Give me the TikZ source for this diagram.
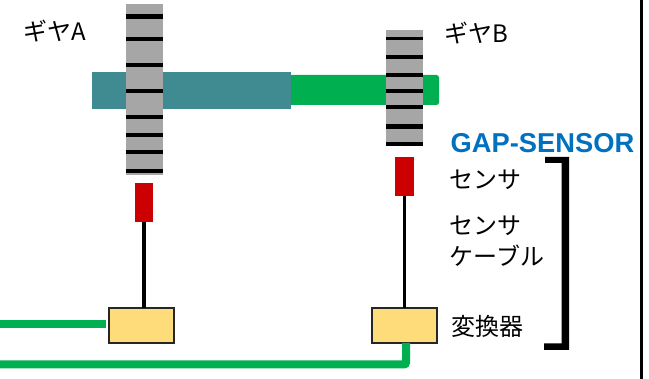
\documentclass[tikz,border=0pt]{standalone}
\usepackage{fontspec}
\setmainfont{Liberation Sans}
\newfontfamily\cjk{Noto Sans CJK JP}
\definecolor{tealshaft}{HTML}{408A91}
\definecolor{greenline}{HTML}{00B050}
\definecolor{gearfill}{HTML}{A6A6A6}
\definecolor{sensorred}{HTML}{CC0000}
\definecolor{boxfill}{HTML}{FFDC7A}
\definecolor{gapblue}{HTML}{0070C0}
\tikzset{
  x=1pt,y=-1pt,
  block/.style={draw=none,inner sep=0pt,outer sep=0pt,anchor=north west},
  gearbody/.style={block,fill=gearfill,minimum width=36.5pt},
  sensorhead/.style={block,fill=sensorred,minimum width=18.5pt,minimum height=39pt},
  converter/.style={draw=black!85,line width=1.2pt,fill=boxfill,inner sep=0pt,outer sep=0pt,anchor=north west,minimum width=65pt,minimum height=35pt},
  tooth/.style={black,line width=#1},
  tooth/.default=3.5pt,
  cable/.style={black,line width=3pt},
  signal/.style={greenline,line width=8pt},
  label/.style={inner sep=0pt,anchor=west,text=black,font=\fontsize{24}{27}\selectfont\cjk},
}
\begin{document}
\begin{tikzpicture}
\useasboundingbox (0,0) rectangle (649,379);
\fill[white] (0,0) rectangle (649,379);
% shafts
\fill[greenline,rounded corners=2.5pt] (285,75) rectangle (439,105);
\node[block,fill=tealshaft,minimum width=199.5pt,minimum height=37pt] (shaft) at (91.5,72) {};
% gear A
\node[gearbody,minimum height=171pt] (gearA) at (126,4) {};
\foreach \y/\t in {17/5pt,39/4pt,65.5/4pt,91/4pt,117/4pt,135.5/4pt,152/4pt,171/4.5pt}
  \draw[tooth=\t] (126,\y) -- (162.5,\y);
% gear B
\node[gearbody,minimum height=116pt] (gearB) at (386,30) {};
\foreach \y/\t in {38.5/3.5pt,57.5/4pt,75/4pt,91/4pt,107/4.5pt,127/5pt,144/3.5pt}
  \draw[tooth=\t] (386,\y) -- (422.5,\y);
% sensors, converters
\node[sensorhead] (sensorA) at (134.8,183) {};
\node[sensorhead] (sensorB) at (395,157) {};
\node[converter] (convA) at (109,308) {};
\node[converter] (convB) at (372,308) {};
\draw[cable,line width=3.5pt] (sensorA.south) -- (sensorA.south |- convA.north);
\draw[cable] (sensorB.south) -- (sensorB.south |- convB.north);
% signal lines
\coordinate (leftA) at (0,324);
\coordinate (endA) at (106,324);
\coordinate (leftB) at (0,364.5);
\draw[signal] (leftA) -- (endA);
\draw[signal,rounded corners=2pt] (leftB) -- (406,364.5) -- (406,343);
% bracket and border
\fill[black] (545,157) -- (569,157) -- (569,350) -- (544,350) -- (544,343.5) -- (561.5,343.5) -- (561.5,163) -- (545,163) -- cycle;
\draw[black,line width=3pt] (641.5,0) -- (641.5,379);
% labels
\node[label] (lgA) at (23.5,31) {ギヤA};
\node[label] (lgB) at (444.5,33) {ギヤB};
\node[inner sep=0pt,anchor=west,text=gapblue,font=\fontsize{27.3}{30}\selectfont\bfseries] (lgap) at (450.5,143) {GAP-SENSOR};
\node[label] (ls) at (449.5,180) {センサ};
\node[label] (lc1) at (449.5,226) {センサ};
\node[label] (lc2) at (449.5,256) {ケーブル};
\node[label] (lv) at (451,326) {変換器};
\end{tikzpicture}
\end{document}
